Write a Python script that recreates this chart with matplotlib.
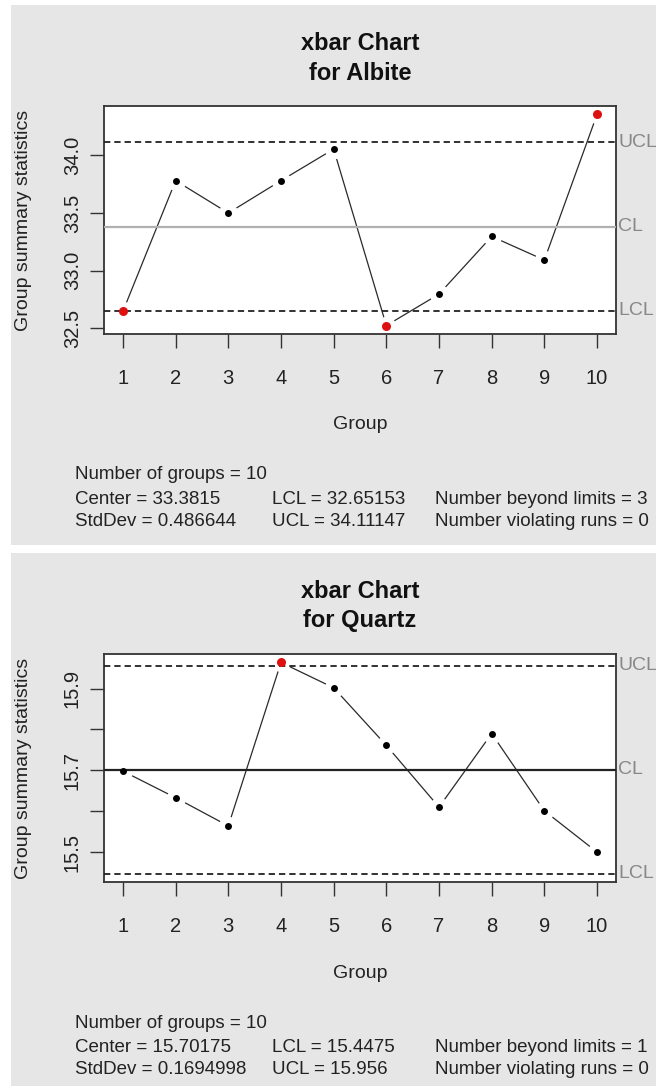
import matplotlib
matplotlib.use('Agg')
import matplotlib.pyplot as plt
from matplotlib.patches import Rectangle
from matplotlib.transforms import blended_transform_factory

plt.rcParams['font.family'] = ['Liberation Sans', 'DejaVu Sans']

# Данные: средние по группам для двух минералов
groups = [1, 2, 3, 4, 5, 6, 7, 8, 9, 10]
albite = [32.649, 33.779, 33.499, 33.779, 34.052, 32.525, 32.797, 33.296, 33.092, 34.352]
quartz = [15.698, 15.633, 15.564, 15.964, 15.902, 15.761, 15.610, 15.790, 15.601, 15.500]

albite_stats = {'center': '33.3815', 'stddev': '0.486644', 'lcl': '32.65153', 'ucl': '34.11147',
                'beyond': 3, 'runs': 0}
quartz_stats = {'center': '15.70175', 'stddev': '0.1694998', 'lcl': '15.4475', 'ucl': '15.956',
                'beyond': 1, 'runs': 0}

albite_ticks = [32.5, 33.0, 33.5, 34.0]
albite_ticklabels = ['32.5', '33.0', '33.5', '34.0']
quartz_ticks = [15.5, 15.6, 15.7, 15.8, 15.9]
quartz_ticklabels = ['15.5', '', '15.7', '', '15.9']

W, H = 656, 1086
fig = plt.figure(figsize=(W / 100, H / 100), dpi=100)
fig.patch.set_facecolor('white')


def px_rect(x0, y0, x1, y1):
    # пиксели (сверху вниз) -> доли фигуры
    return [x0 / W, 1 - y1 / H, (x1 - x0) / W, (y1 - y0) / H]


def panel(top, name, values, stats, ticks, ticklabels, cl_color):
    # серый фон панели
    fig.patches.append(Rectangle((11 / W, 1 - (top + 540) / H), 1 - 11 / W, 540 / H,
                                 transform=fig.transFigure, facecolor='#e6e6e6',
                                 edgecolor='none', zorder=-5))
    ax = fig.add_axes(px_rect(104, top + 101, 616, top + 329))
    ax.set_facecolor('white')

    lcl = float(stats['lcl'])
    ucl = float(stats['ucl'])
    cl = float(stats['center'])

    # линия с разрывами у точек (как type="b" в R)
    ax.plot(groups, values, color='#2a2a2a', lw=0.9, zorder=2)
    ax.plot(groups, values, 'o', color='white', ms=14, mec='none', zorder=2.5)

    ax.axhline(ucl, color='#222222', lw=1.3, ls=(0, (3.5, 2.2)), zorder=3)
    ax.axhline(lcl, color='#222222', lw=1.3, ls=(0, (3.5, 2.2)), zorder=3)
    ax.axhline(cl, color=cl_color, lw=1.6, zorder=3)

    colors = ['#dd1111' if (v > ucl or v < lcl) else 'black' for v in values]
    for g, v, c in zip(groups, values, colors):
        ax.plot(g, v, 'o', color=c, ms=6.5 if c != 'black' else 5, mec='none', zorder=4,
                clip_on=False)

    lo = min(min(values), lcl)
    hi = max(max(values), ucl)
    pad = (hi - lo) * 0.04
    ax.set_ylim(lo - pad, hi + pad)
    ax.set_xlim(1 - 9 * 0.04, 10 + 9 * 0.04)

    ax.set_xticks(groups)
    ax.set_xticklabels([str(g) for g in groups])
    ax.set_yticks(ticks)
    ax.set_yticklabels(ticklabels, rotation=90, va='center')
    ax.tick_params(axis='both', length=10, width=1.0, color='#333333', labelsize=14.5,
                   labelcolor='#222222')
    ax.tick_params(axis='x', pad=15)
    ax.tick_params(axis='y', pad=6)
    for s in ax.spines.values():
        s.set_linewidth(1.3)
        s.set_color('#333333')

    trans = blended_transform_factory(ax.transAxes, ax.transData)
    for lab, yv in [('UCL', ucl), ('CL', cl), ('LCL', lcl)]:
        ax.text(1.004, yv, lab, transform=trans, ha='left', va='center',
                fontsize=14, color='#888888', clip_on=False)

    fig.text(360 / W, 1 - (top + 38) / H, 'xbar Chart', ha='center', va='center',
             fontsize=17, fontweight='bold', color='#111111')
    fig.text(360 / W, 1 - (top + 68) / H, 'for ' + name, ha='center', va='center',
             fontsize=17, fontweight='bold', color='#111111')
    fig.text(24 / W, 1 - (top + 215) / H, 'Group summary statistics', rotation=90,
             ha='center', va='center', fontsize=14, color='#222222')
    fig.text(360 / W, 1 - (top + 420) / H, 'Group', ha='center', va='center',
             fontsize=14, color='#222222')

    rows = [
        ('Number of groups = %d' % len(values), '', ''),
        ('Center = ' + stats['center'], 'LCL = ' + stats['lcl'],
         'Number beyond limits = %d' % stats['beyond']),
        ('StdDev = ' + stats['stddev'], 'UCL = ' + stats['ucl'],
         'Number violating runs = %d' % stats['runs']),
    ]
    ys = [470, 495, 517]
    for (a, b, c), y in zip(rows, ys):
        for txt, x in [(a, 75), (b, 272), (c, 435)]:
            if txt:
                fig.text(x / W, 1 - (top + y) / H, txt, ha='left', va='center',
                         fontsize=13.5, color='#222222')
    return ax


panel(5, 'Albite', albite, albite_stats, albite_ticks, albite_ticklabels, '#b0b0b0')
panel(553, 'Quartz', quartz, quartz_stats, quartz_ticks, quartz_ticklabels, '#222222')

fig.savefig('out.png', dpi=100)
